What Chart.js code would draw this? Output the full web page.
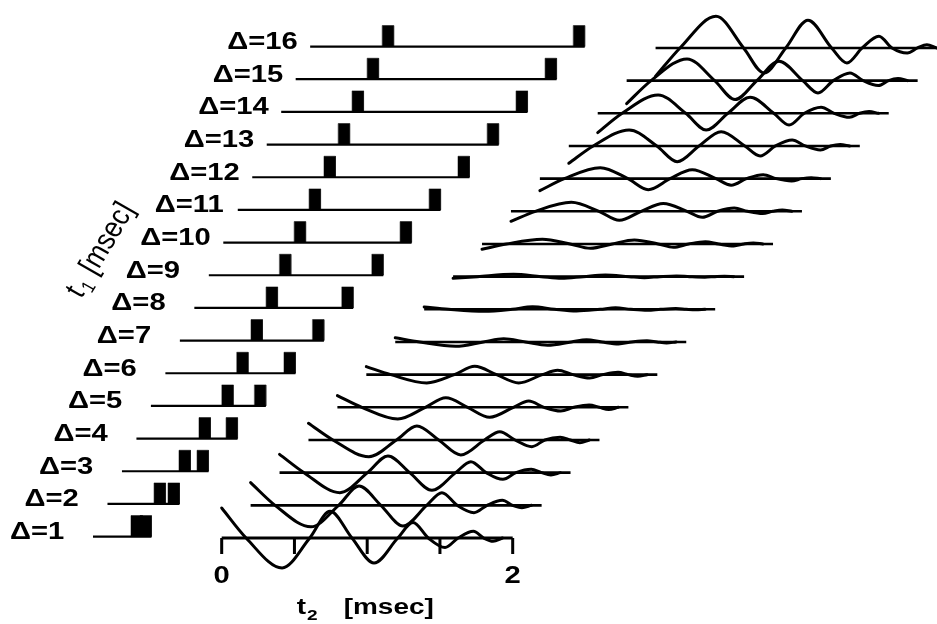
<!DOCTYPE html>
<html>
<head>
<meta charset="utf-8">
<script src="https://cdn.jsdelivr.net/npm/chart.js@4.4.1/dist/chart.umd.min.js"></script>
<style>
  html, body { margin: 0; padding: 0; background: #fff; }
  #wrap { width: 937px; height: 624px; }
</style>
</head>
<body>
<div id="wrap"><canvas id="echoes" width="937" height="624"></canvas></div>
<script>
// Pulse-pair spacing index of each trace, bottom to top
const deltas = [1, 2, 3, 4, 5, 6, 7, 8, 9, 10, 11, 12, 13, 14, 15, 16];

// Pulse sequence: start of first and second pulse (ms from the start of each sequence line)
const pulse1At = [0.261, 0.320, 0.392, 0.430, 0.487, 0.490, 0.489, 0.493,
                  0.485, 0.487, 0.490, 0.493, 0.491, 0.487, 0.491, 0.495];
const pulse2At = [0.323, 0.416, 0.516, 0.616, 0.711, 0.815, 0.911, 1.013,
                  1.120, 1.215, 1.315, 1.414, 1.515, 1.614, 1.714, 1.808];

// Echo signal along t2: times of the turning points and of the zero crossings (ms)
const extremaT2   = [0, 0.415, 0.745, 1.047, 1.315, 1.535, 1.73, 1.865];
const crossingsT2 = [0.168, 0.605, 0.895, 1.21, 1.42, 1.625, 1.80];
const signalEndT2 = 1.93;

// Echo amplitude at each turning point (a.u.), one list per Δ
const echo01 = [ 3.00, -3.00,  2.67, -2.50,  1.55, -0.95,  0.67, -0.33];
const echo02 = [ 2.27, -2.15,  1.93, -2.07,  1.27, -0.73,  0.50, -0.23];
const echo03 = [ 1.83, -2.00,  1.67, -1.77,  1.10, -0.67,  0.33, -0.23];
const echo04 = [ 1.67, -1.67,  1.40, -1.50,  0.83, -0.67,  0.27, -0.27];
const echo05 = [ 1.17, -1.17,  0.95, -1.00,  0.63, -0.37,  0.23, -0.23];
const echo06 = [ 0.80, -0.83,  0.83, -0.83,  0.43, -0.33,  0.23, -0.17];
const echo07 = [ 0.43, -0.43,  0.33, -0.33,  0.23, -0.20,  0.13, -0.10];
const echo08 = [ 0.23, -0.20,  0.25, -0.17,  0.15, -0.10,  0.07, -0.05];
const echo09 = [-0.17,  0.23, -0.17,  0.17, -0.10,  0.07, -0.05,  0.03];
const echo10 = [-0.53,  0.47, -0.43,  0.40, -0.33,  0.23, -0.20,  0.10];
const echo11 = [-1.00,  0.90, -0.90,  0.77, -0.60,  0.33, -0.23,  0.13];
const echo12 = [-1.20,  1.10, -1.10,  0.90, -0.65,  0.40, -0.23,  0.10];
const echo13 = [-1.73,  1.60, -1.57,  1.43, -1.00,  0.60, -0.40,  0.15];
const echo14 = [-1.93,  1.83, -1.67,  1.60, -1.17,  0.60, -0.40,  0.17];
const echo15 = [-2.30,  2.17, -1.90,  1.93, -1.23,  0.77, -0.50,  0.20];
const echo16 = [-2.83,  3.16, -2.50,  2.77, -1.50,  1.17, -0.50,  0.33];
const echoRows = [echo01, echo02, echo03, echo04, echo05, echo06, echo07, echo08,
                  echo09, echo10, echo11, echo12, echo13, echo14, echo15, echo16];

// t2 axis under the first trace
const t2Ticks = [0, 0.5, 1, 1.5, 2];
const t2TickLabels = ['0', '', '', '', '2'];
const t2Span = 2;

// Layout of the staggered traces
const ROW_GAP = 3.267;      // vertical step between traces (a.u.)
const WAVE_SHIFT = 0.1988;  // sideways step of the echo traces (ms)
const SEQ_X0 = -0.8845;     // start of the lowest sequence line (ms)
const SEQ_SHIFT = 0.0995;   // sideways step of the sequence lines (ms)
const SEQ_LIFT = 0.14;
const PULSE_W = 0.079;
const PULSE_H = 2.1;
const TICK_LEN = 1.6;

function segment(points, width) {
  return {
    data: points, borderColor: '#000', borderWidth: width, pointRadius: 0,
    tension: 0, fill: false, borderCapStyle: 'butt', borderJoinStyle: 'miter'
  };
}

const datasets = [];
deltas.forEach((d, i) => {
  const base = i * ROW_GAP;

  // pulse sequence line with its two pulses
  const s0 = SEQ_X0 + i * SEQ_SHIFT;
  const sb = base + SEQ_LIFT;
  const p1 = s0 + pulse1At[i];
  const p2 = s0 + pulse2At[i];
  datasets.push(segment([{ x: s0, y: sb }, { x: p2 + PULSE_W, y: sb }], 2.2));
  [p1, p2].forEach(p => {
    datasets.push({
      data: [{ x: p, y: sb }, { x: p, y: sb + PULSE_H },
             { x: p + PULSE_W, y: sb + PULSE_H }, { x: p + PULSE_W, y: sb }],
      borderColor: '#000', borderWidth: 0.5, pointRadius: 0, tension: 0,
      backgroundColor: '#000', fill: { value: sb }
    });
  });

  // echo trace: baseline then signal
  const w0 = i * WAVE_SHIFT;
  datasets.push(segment([{ x: w0, y: base }, { x: w0 + t2Span, y: base }], i === 0 ? 3 : 2.6));

  const amps = echoRows[i];
  const pts = [];
  extremaT2.forEach((t, j) => {
    pts.push({ x: w0 + t, y: base + amps[j] });
    if (j < crossingsT2.length) pts.push({ x: w0 + crossingsT2[j], y: base });
  });
  pts.push({ x: w0 + signalEndT2, y: base });
  datasets.push({
    data: pts, borderColor: '#000', borderWidth: 3, pointRadius: 0,
    cubicInterpolationMode: 'monotone', fill: false,
    borderCapStyle: 'round', borderJoinStyle: 'round'
  });
});

// tick marks of the t2 axis
t2Ticks.forEach(t => {
  datasets.push(segment([{ x: t, y: 0 }, { x: t, y: -TICK_LEN }], 3));
});

const STRETCH = 1.27;
function wideText(ctx, text, x, y, font, align) {
  ctx.save();
  ctx.font = font;
  const w = ctx.measureText(text).width * STRETCH;
  const left = align === 'center' ? x - w / 2 : (align === 'right' ? x - w : x);
  ctx.translate(left, y);
  ctx.scale(STRETCH, 1);
  ctx.textAlign = 'left';
  ctx.textBaseline = 'alphabetic';
  ctx.fillStyle = '#000';
  ctx.fillText(text, 0, 0);
  ctx.restore();
  return w;
}

const labelPlugin = {
  id: 'traceLabels',
  afterDraw(chart) {
    const ctx = chart.ctx;
    const xs = chart.scales.x, ys = chart.scales.y;
    const bold = 'bold 22px "Liberation Sans", Arial, sans-serif';
    const boldRow = 'bold 23px "Liberation Sans", Arial, sans-serif';

    // Δ labels at the left of every sequence line
    deltas.forEach((d, i) => {
      const x = xs.getPixelForValue(SEQ_X0 + i * SEQ_SHIFT) - 83;
      const y = ys.getPixelForValue(i * ROW_GAP + SEQ_LIFT) + 2.5;
      wideText(ctx, 'Δ=' + d, x, y, boldRow, 'left');
    });

    // t2 tick labels
    const axisY = ys.getPixelForValue(0);
    t2Ticks.forEach((t, j) => {
      if (t2TickLabels[j]) wideText(ctx, t2TickLabels[j], xs.getPixelForValue(t), axisY + 45, boldRow, 'center');
    });

    // t2 axis title
    const tx = xs.getPixelForValue(0) + 75;
    const tw = wideText(ctx, 't', tx, axisY + 76, bold, 'left');
    wideText(ctx, '2', tx + tw + 1, axisY + 82, 'bold 15px "Liberation Sans", Arial, sans-serif', 'left');
    wideText(ctx, '[msec]', tx + 47, axisY + 76, bold, 'left');

    // t1 axis title along the sequence diagonal
    ctx.save();
    ctx.translate(xs.getPixelForValue(SEQ_X0) - 11, ys.getPixelForValue(7 * ROW_GAP) - 11);
    ctx.scale(STRETCH, 1);
    ctx.rotate(-65 * Math.PI / 180);
    ctx.fillStyle = '#000';
    ctx.textBaseline = 'alphabetic';
    ctx.font = 'italic 25px "Liberation Sans", Arial, sans-serif';
    const wt = ctx.measureText('t').width;
    ctx.fillText('t', 0, 0);
    ctx.font = 'italic 16px "Liberation Sans", Arial, sans-serif';
    const w1 = ctx.measureText('1').width;
    ctx.fillText('1', wt + 1, 5);
    ctx.font = 'italic 25px "Liberation Sans", Arial, sans-serif';
    ctx.fillText('[msec]', wt + w1 + 10, 0);
    ctx.restore();
  }
};

new Chart(document.getElementById('echoes'), {
  type: 'line',
  data: { datasets },
  options: {
    responsive: false,
    animation: false,
    events: [],
    devicePixelRatio: 1,
    layout: { padding: 0 },
    plugins: { legend: { display: false }, tooltip: { enabled: false }, title: { display: false } },
    scales: {
      x: { type: 'linear', min: -1.5237, max: 4.9162, display: false },
      y: { type: 'linear', min: -8.6, max: 53.8, display: false }
    }
  },
  plugins: [labelPlugin]
});
</script>
</body>
</html>
